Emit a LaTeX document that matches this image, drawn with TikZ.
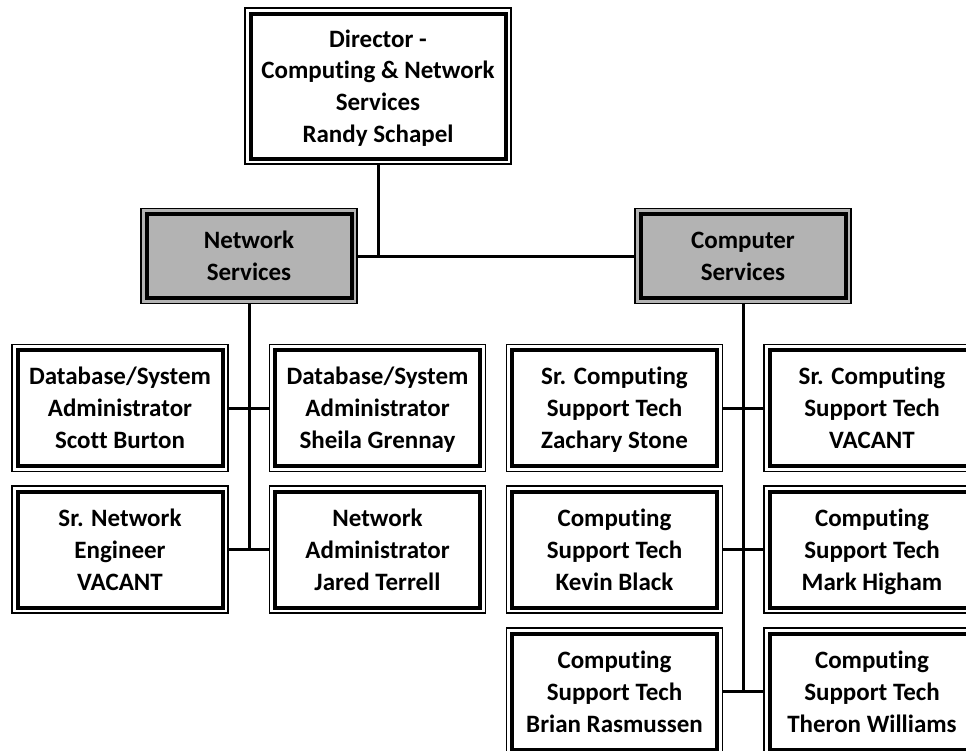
\documentclass[tikz,border=0pt]{standalone}
\usepackage{fontspec}
\setmainfont{Carlito}[Ligatures=NoCommon]
\definecolor{grayfill}{RGB}{179,179,179}
\begin{document}
\begin{tikzpicture}[x=1pt,y=-1pt,
  box/.style={draw=black, line width=1.2pt, fill=white, minimum width=216pt,
    minimum height=127pt, inner sep=0pt, outer sep=0pt, align=center,
    text depth=-1pt,
    font=\bfseries\fontsize{25}{31.8}\selectfont},
  grp/.style={box, fill=grayfill, minimum height=95pt},
  conn/.style={line width=3pt},
  innerline/.style={line width=4pt}]
\useasboundingbox (0,0) rectangle (966,750);
\clip (0,0) rectangle (966,750);

\node[box, minimum width=266pt, minimum height=156pt] (dir) at (378,86)
  {Director -\\Computing \& Network\\Services\\Randy Schapel};
\node[grp] (ns) at (249,256) {Network\\Services};
\node[grp] (cs) at (743,256) {Computer\\Services};

\node[box] (n1) at (120,408) {Database/System\\Administrator\\Scott Burton};
\node[box] (n2) at (377.5,408) {Database/System\\Administrator\\Sheila Grennay};
\node[box] (n3) at (120,549.5) {Sr. Network\\Engineer\\VACANT};
\node[box] (n4) at (377.5,549.5) {Network\\Administrator\\Jared Terrell};

\node[box] (c1) at (614.5,408) {Sr. Computing\\Support Tech\\Zachary Stone};
\node[box] (c2) at (872,408) {Sr. Computing\\Support Tech\\VACANT};
\node[box] (c3) at (614.5,549.5) {Computing\\Support Tech\\Kevin Black};
\node[box] (c4) at (872,549.5) {Computing\\Support Tech\\Mark Higham};
\node[box] (c5) at (614.5,691.5) {Computing\\Support Tech\\Brian Rasmussen};
\node[box] (c6) at (872,691.5) {Computing\\Support Tech\\Theron Williams};

\foreach \n in {dir,ns,cs,n1,n2,n3,n4,c1,c2,c3,c4,c5,c6}
  \draw[innerline] ([shift={(5.5pt,5.5pt)}]\n.south west) rectangle ([shift={(-5.5pt,-5.5pt)}]\n.north east);

\draw[conn] (dir.south) -- (dir.south |- ns.east);
\draw[conn] (ns.east) -- (cs.west);
\draw[conn] (ns.south) -- (ns.south |- n3.east);
\draw[conn] (cs.south) -- (cs.south |- c5.east);
\draw[conn] (n1.east) -- (n2.west);
\draw[conn] (n3.east) -- (n4.west);
\draw[conn] (c1.east) -- (c2.west);
\draw[conn] (c3.east) -- (c4.west);
\draw[conn] (c5.east) -- (c6.west);
\end{tikzpicture}
\end{document}
